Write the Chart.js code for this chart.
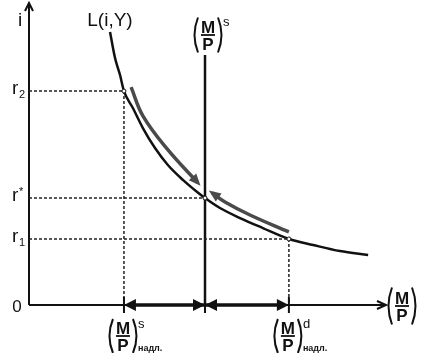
<!DOCTYPE html>
<html>
<head>
<meta charset="utf-8">
<script src="https://cdn.jsdelivr.net/npm/chart.js@4.4.0/dist/chart.umd.min.js"></script>
<style>
    html, body { margin: 0; padding: 0; background: #fff; }
</style>
</head>
<body>
<canvas id="myChart" width="430" height="353"></canvas>
<script>
// courbe L(i,Y) (demande de monnaie)
const curveM = [2.27, 2.41, 2.55, 2.66, 2.91, 3.19, 3.53, 3.89, 4.31, 4.71, 4.93, 5.35, 5.91, 6.55, 7.28, 7.96, 8.71, 9.5];
const curveI = [9.01, 8.15, 7.59, 7.06, 6.50, 5.84, 5.18, 4.62, 4.13, 3.73, 3.53, 3.20, 2.87, 2.54, 2.18, 1.98, 1.78, 1.65];

// offre de monnaie et niveaux de taux
const moneySupply = 4.93;
const msTop = 8.25;
const rStar = 3.53;
const r2 = 7.06;
const r1 = 2.18;
const mExcessS = 2.66;
const mExcessD = 7.28;

// fleches grises le long de la courbe
const arrowDownM = [2.86, 3.19, 3.87, 4.73];
const arrowDownI = [7.19, 6.24, 5.15, 4.03];
const arrowUpM = [7.28, 6.19, 5.49, 5.13];
const arrowUpI = [2.41, 2.97, 3.40, 3.70];

function pts(xs, ys) {
    return xs.map((x, k) => ({ x: x, y: ys[k] }));
}

Chart.defaults.font.family = '"Liberation Sans", Arial, sans-serif';

const dotted = {
    borderColor: '#222',
    borderWidth: 1.5,
    borderDash: [3, 2],
    pointRadius: 0,
    showLine: true,
    tension: 0
};

const grey = {
    borderColor: '#4a4a4a',
    borderWidth: 3.5,
    pointRadius: 0,
    showLine: true,
    tension: 0.4
};

function frac(ctx, cx, cy, h, sup, sub) {
    ctx.save();
    ctx.fillStyle = '#111';
    ctx.strokeStyle = '#111';
    ctx.textAlign = 'center';
    ctx.font = 'bold 17px "Liberation Sans"';
    ctx.textBaseline = 'alphabetic';
    ctx.fillText('M', cx, cy - 2);
    ctx.textBaseline = 'top';
    ctx.fillText('P', cx, cy + 2);
    ctx.lineWidth = 1.8;
    ctx.beginPath();
    ctx.moveTo(cx - 7, cy);
    ctx.lineTo(cx + 7, cy);
    ctx.stroke();
    ctx.lineWidth = 2;
    ctx.beginPath();
    ctx.moveTo(cx - 10, cy - h / 2);
    ctx.quadraticCurveTo(cx - 17, cy, cx - 10, cy + h / 2);
    ctx.moveTo(cx + 10, cy - h / 2);
    ctx.quadraticCurveTo(cx + 17, cy, cx + 10, cy + h / 2);
    ctx.stroke();
    ctx.textAlign = 'left';
    if (sup) {
        ctx.font = '13px "Liberation Sans"';
        ctx.textBaseline = 'middle';
        ctx.fillText(sup, cx + 15, cy - h / 2 + 5);
    }
    if (sub) {
        ctx.font = 'bold 9px "Liberation Sans"';
        ctx.textBaseline = 'middle';
        ctx.fillText(sub, cx + 15, cy + h / 2 - 4);
    }
    ctx.restore();
}

function headFilled(ctx, x, y, dir) {
    ctx.beginPath();
    ctx.moveTo(x, y);
    ctx.lineTo(x - dir * 12, y - 6);
    ctx.lineTo(x - dir * 12, y + 6);
    ctx.closePath();
    ctx.fill();
}

function rLabel(ctx, y, txt, small, up) {
    ctx.font = '19px "Liberation Sans"';
    ctx.textAlign = 'left';
    ctx.textBaseline = 'middle';
    ctx.fillText(txt, 12, y - 2);
    ctx.font = '11px "Liberation Sans"';
    ctx.fillText(small, 19, up ? y - 6 : y + 4);
}

const drawingPlugin = {
    id: 'drawing',
    beforeDatasetsDraw(chart) {
        const ctx = chart.ctx;
        const xs = chart.scales.x, ys = chart.scales.y;
        const x0 = xs.getPixelForValue(0), y0 = ys.getPixelForValue(0);
        const a = chart.chartArea;
        ctx.save();
        ctx.strokeStyle = '#111';
        ctx.lineWidth = 2;
        ctx.beginPath();
        ctx.moveTo(x0, y0);
        ctx.lineTo(x0, a.top + 1);
        ctx.moveTo(x0, y0);
        ctx.lineTo(a.right, y0);
        ctx.moveTo(x0 - 4, a.top + 9);
        ctx.lineTo(x0, a.top + 1);
        ctx.lineTo(x0 + 4, a.top + 9);
        ctx.moveTo(a.right - 9, y0 - 4);
        ctx.lineTo(a.right, y0);
        ctx.lineTo(a.right - 9, y0 + 4);
        ctx.stroke();
        ctx.restore();
    },
    afterDatasetsDraw(chart) {
        const ctx = chart.ctx;
        const xs = chart.scales.x, ys = chart.scales.y;
        const y0 = ys.getPixelForValue(0);
        const pS = xs.getPixelForValue(mExcessS);
        const pM = xs.getPixelForValue(moneySupply);
        const pD = xs.getPixelForValue(mExcessD);
        ctx.save();
        ctx.fillStyle = '#111';
        ctx.strokeStyle = '#111';

        // ecarts sur l'axe
        ctx.lineWidth = 3.5;
        ctx.beginPath();
        ctx.moveTo(pS + 6, y0);
        ctx.lineTo(pD - 6, y0);
        ctx.stroke();
        headFilled(ctx, pS, y0, -1);
        headFilled(ctx, pM, y0, 1);
        headFilled(ctx, pM, y0, -1);
        headFilled(ctx, pD, y0, 1);
        ctx.lineWidth = 2;
        ctx.beginPath();
        [pS, pM, pD].forEach(p => {
            ctx.moveTo(p, y0 - 8);
            ctx.lineTo(p, y0 + 8);
        });
        ctx.stroke();

        // tetes des fleches grises
        ctx.fillStyle = '#4a4a4a';
        [5, 6].forEach(i => {
            const d = chart.getDatasetMeta(i).data;
            const p = d[d.length - 1], q = d[d.length - 2];
            const ang = Math.atan2(p.y - q.y, p.x - q.x);
            ctx.save();
            ctx.translate(p.x, p.y);
            ctx.rotate(ang);
            ctx.beginPath();
            ctx.moveTo(4, 0);
            ctx.lineTo(-8, -5);
            ctx.lineTo(-8, 5);
            ctx.closePath();
            ctx.fill();
            ctx.restore();
        });

        // points d'intersection
        ctx.fillStyle = '#fff';
        ctx.lineWidth = 1;
        [[mExcessS, r2], [moneySupply, rStar], [mExcessD, r1]].forEach(v => {
            ctx.beginPath();
            ctx.arc(xs.getPixelForValue(v[0]), ys.getPixelForValue(v[1]), 2, 0, Math.PI * 2);
            ctx.fill();
            ctx.stroke();
        });

        // textes
        ctx.fillStyle = '#111';
        ctx.font = '19px "Liberation Sans"';
        ctx.textAlign = 'center';
        ctx.textBaseline = 'middle';
        ctx.fillText('i', 20, 21);
        ctx.fillText('L(i,Y)', 110, 21);
        ctx.font = '17px "Liberation Sans"';
        ctx.fillText('0', 17, y0 + 2);
        rLabel(ctx, ys.getPixelForValue(r2), 'r', '2', false);
        rLabel(ctx, ys.getPixelForValue(rStar), 'r', '*', true);
        rLabel(ctx, ys.getPixelForValue(r1), 'r', '1', false);

        frac(ctx, pM + 3, 35, 35, 's', null);
        frac(ctx, chart.chartArea.right + 16, y0 + 1, 37, null, null);
        frac(ctx, pS - 1, 336, 34, 's', 'надл.');
        frac(ctx, pD - 1, 336, 34, 'd', 'надл.');
        ctx.restore();
    }
};

const ctx = document.getElementById('myChart');

new Chart(ctx, {
    type: 'scatter',
    data: {
        datasets: [
            Object.assign({ data: [{ x: 0, y: r2 }, { x: mExcessS, y: r2 }, { x: mExcessS, y: 0 }] }, dotted),
            Object.assign({ data: [{ x: 0, y: rStar }, { x: moneySupply, y: rStar }] }, dotted),
            Object.assign({ data: [{ x: 0, y: r1 }, { x: mExcessD, y: r1 }, { x: mExcessD, y: 0 }] }, dotted),
            {
                data: [{ x: moneySupply, y: 0 }, { x: moneySupply, y: msTop }],
                borderColor: '#111',
                borderWidth: 2.5,
                pointRadius: 0,
                showLine: true
            },
            {
                data: pts(curveM, curveI),
                borderColor: '#111',
                borderWidth: 2.5,
                pointRadius: 0,
                showLine: true,
                cubicInterpolationMode: 'monotone'
            },
            Object.assign({ data: pts(arrowDownM, arrowDownI) }, grey),
            Object.assign({ data: pts(arrowUpM, arrowUpI) }, grey)
        ]
    },
    options: {
        responsive: false,
        animation: false,
        layout: {
            padding: { left: 29, top: 2, right: 44, bottom: 48 }
        },
        plugins: {
            legend: { display: false },
            tooltip: { enabled: false }
        },
        scales: {
            x: { type: 'linear', min: 0, max: 10, display: false },
            y: { type: 'linear', min: 0, max: 10, display: false }
        }
    },
    plugins: [drawingPlugin]
});
</script>
</body>
</html>
